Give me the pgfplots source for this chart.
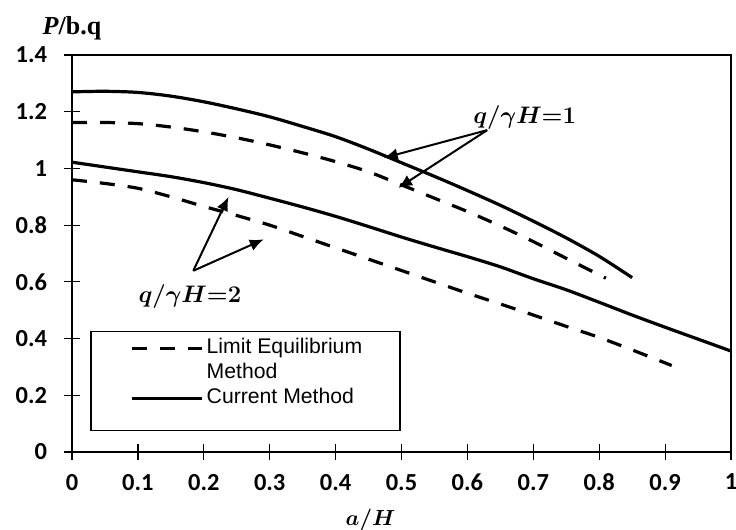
\documentclass[border=0pt]{standalone}
\usepackage{pgfplots}
\pgfplotsset{compat=1.18}
\usepackage{bm}
\usepackage{fontspec}
\setmainfont{Carlito}
\newfontfamily\arialfont{Liberation Sans}
\newfontfamily\timesfont{Liberation Serif}
\usetikzlibrary{arrows.meta}

\begin{document}
\begin{tikzpicture}
\useasboundingbox (-36bp,-39bp) rectangle (332bp,226bp);
\begin{axis}[
  scale only axis, width=329.5bp, height=198.5bp,
  xmin=0, xmax=1, ymin=0, ymax=1.4,
  xtick={0,0.1,...,1}, ytick={0,0.2,...,1.4},
  xtick pos=bottom, ytick pos=left,
  tick align=center, major tick length=8bp,
  axis line style={line width=0.6bp},
  tick style={line width=0.6bp, black},
  ticklabel style={font=\fontsize{12.25bp}{14bp}\selectfont},
  xticklabel={\textbf{\pgfmathprintnumber[assume math mode=true]{\tick}}},
  yticklabel={\textbf{\pgfmathprintnumber[assume math mode=true]{\tick}}},
  xticklabel style={yshift=-3.5bp},
  yticklabel style={xshift=-5bp},
  clip=false,
  legend style={at={(rel axis cs:0.029,0.040)}, anchor=south west,
    draw=none, fill=none, inner xsep=19.5bp, inner ysep=1bp,
    row sep=2bp,
    font=\arialfont\fontsize{10.6bp}{12bp}\selectfont,
    nodes={inner xsep=1.5bp, inner ysep=0pt, text height=8bp, text depth=2.5bp}},
  legend cell align=left,
  legend image code/.code={\draw[#1] (0bp,0bp) -- (35bp,0bp);},
]
% legend entries
\addlegendimage{line width=1.6bp, dash pattern=on 7.5bp off 6.5bp}
\addlegendentry{Limit Equilibrium}
\addlegendimage{empty legend}
\addlegendentry{Method}
\addlegendimage{line width=1.6bp}
\addlegendentry{Current Method}
\addlegendimage{empty legend}
\addlegendentry{}

% current method, q/gH = 1
\addplot[line width=1.6bp, smooth, forget plot] coordinates {
(0,1.270) (0.05,1.272) (0.1,1.268) (0.15,1.255) (0.2,1.235) (0.25,1.210)
(0.3,1.182) (0.35,1.148) (0.4,1.112) (0.45,1.068) (0.5,1.020) (0.55,0.972)
(0.6,0.922) (0.65,0.870) (0.7,0.814) (0.75,0.755) (0.8,0.690) (0.85,0.615)
};
% limit equilibrium, q/gH = 1
\addplot[line width=1.6bp, dash pattern=on 7.5bp off 6.5bp, smooth, forget plot] coordinates {
(0,1.162) (0.05,1.162) (0.1,1.158) (0.15,1.146) (0.2,1.129) (0.25,1.108)
(0.3,1.083) (0.35,1.055) (0.4,1.024) (0.45,0.988) (0.5,0.942) (0.55,0.895)
(0.6,0.848) (0.65,0.797) (0.7,0.742) (0.75,0.683) (0.81,0.613)
};
% current method, q/gH = 2
\addplot[line width=1.6bp, smooth, forget plot] coordinates {
(0,1.022) (0.05,1.005) (0.1,0.988) (0.15,0.971) (0.2,0.950) (0.25,0.925)
(0.3,0.895) (0.35,0.864) (0.4,0.831) (0.45,0.795) (0.5,0.758) (0.55,0.723)
(0.6,0.689) (0.65,0.653) (0.7,0.611) (0.75,0.572) (0.8,0.528) (0.85,0.483)
(0.9,0.440) (0.95,0.398) (1,0.356)
};
% limit equilibrium, q/gH = 2
\addplot[line width=1.6bp, dash pattern=on 7.5bp off 6.5bp, smooth, forget plot] coordinates {
(0,0.960) (0.05,0.947) (0.1,0.930) (0.15,0.900) (0.2,0.866) (0.25,0.834)
(0.3,0.800) (0.35,0.760) (0.4,0.720) (0.45,0.680) (0.5,0.640) (0.55,0.600)
(0.6,0.560) (0.65,0.522) (0.7,0.483) (0.75,0.443) (0.8,0.404) (0.85,0.360)
(0.91,0.305)
};

% box top and right
\draw[line width=0.6bp] (rel axis cs:0,1) -- (rel axis cs:1,1) -- (rel axis cs:1,0);
% legend frame
\draw[line width=0.6bp] ([xshift=9.5bp,yshift=10.65bp]rel axis cs:0,0)
  rectangle ([xshift=164bp,yshift=60.2bp]rel axis cs:0,0);

% annotations
\draw[line width=1bp, -{Latex[length=7bp,width=6bp]}] (axis cs:0.630,1.135) -- (axis cs:0.473,1.037);
\draw[line width=1bp, -{Latex[length=7bp,width=6bp]}] (axis cs:0.630,1.135) -- (axis cs:0.495,0.931);
\node[font=\fontsize{12.5bp}{14bp}\selectfont] at (axis cs:0.687,1.181) {$\bm{q/\gamma H{=}1}$};
\draw[line width=1bp, -{Latex[length=7bp,width=6bp]}] (axis cs:0.184,0.639) -- (axis cs:0.2375,0.900);
\draw[line width=1bp, -{Latex[length=7bp,width=6bp]}] (axis cs:0.184,0.639) -- (axis cs:0.291,0.750);
\node[font=\fontsize{12.5bp}{14bp}\selectfont] at (axis cs:0.179,0.547) {$\bm{q/\gamma H{=}2}$};

% axis titles
\node[font=\timesfont\fontsize{13bp}{15bp}\selectfont] at (rel axis cs:0,1) [yshift=13.5bp] {\textbf{\textit{P}/b.q}};
\node[font=\fontsize{10.5bp}{13bp}\selectfont] at (axis cs:0.453,0) [yshift=-34bp] {$\bm{a/H}$};
\end{axis}
\end{tikzpicture}
\end{document}
